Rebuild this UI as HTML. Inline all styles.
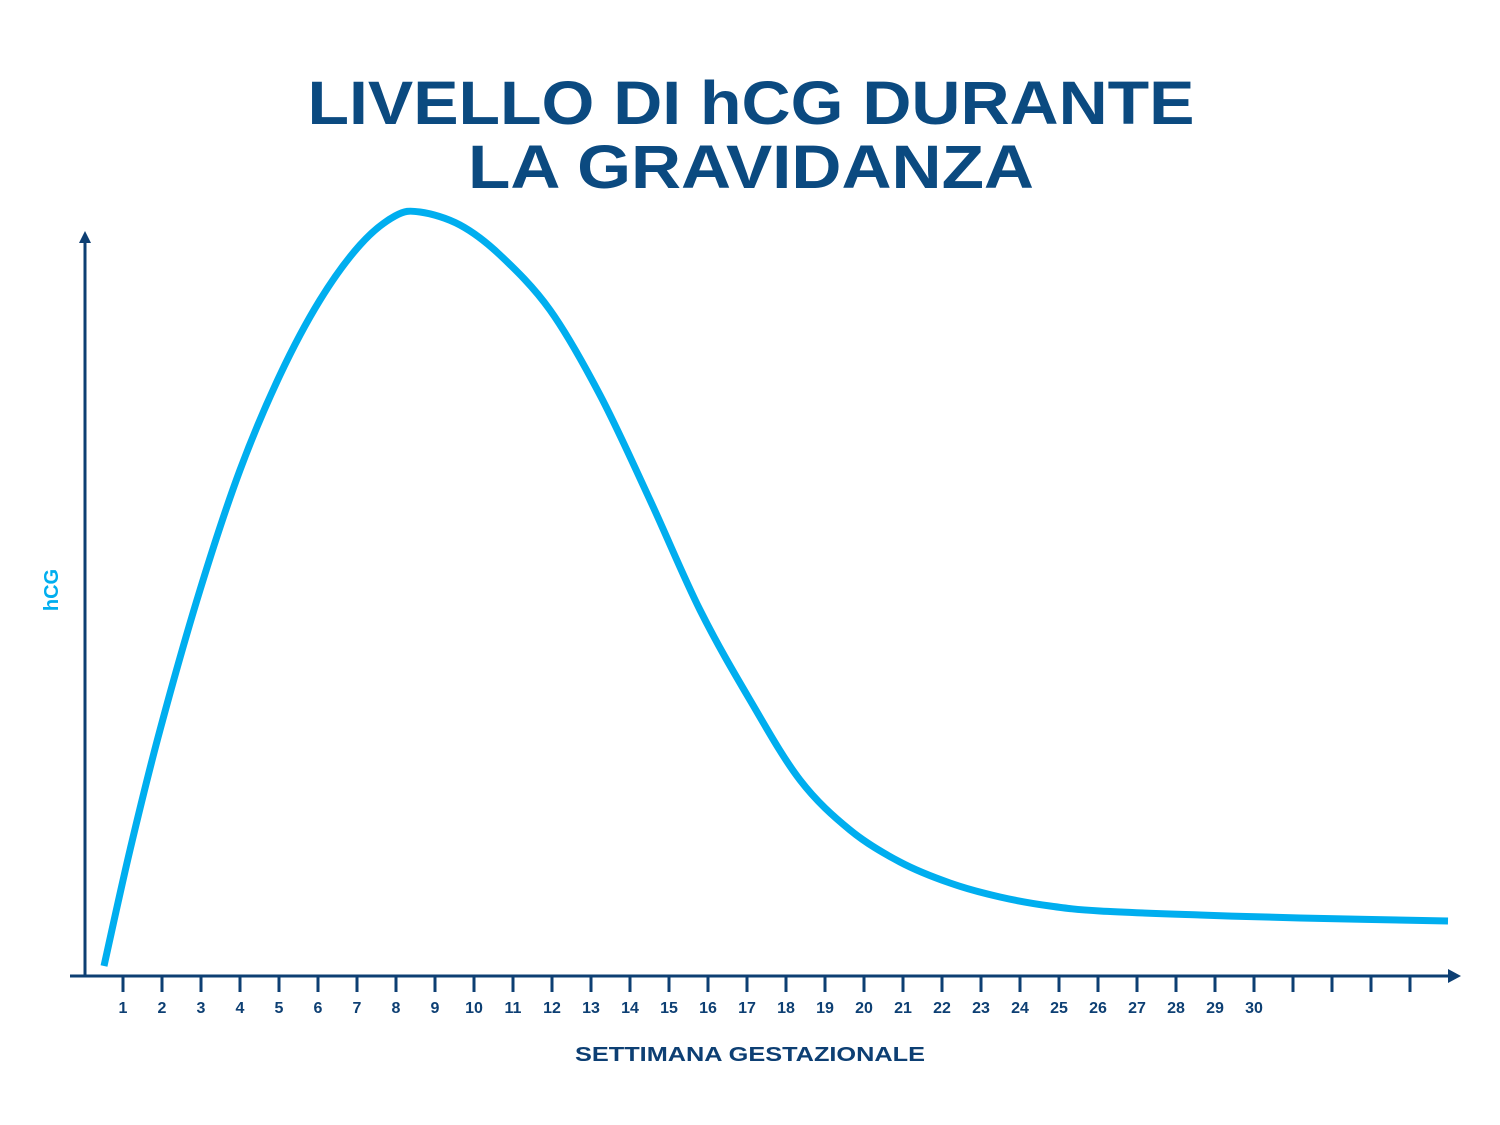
<!DOCTYPE html>
<html><head><meta charset="utf-8"><style>html,body{margin:0;padding:0;background:#fff}svg{display:block}</style></head>
<body>
<svg width="1500" height="1125" viewBox="0 0 1500 1125" xmlns="http://www.w3.org/2000/svg" font-family="Liberation Sans, sans-serif" font-weight="bold">
<rect width="1500" height="1125" fill="#fff"/>
<text x="751" y="124" font-size="61" fill="#0b4a80" text-anchor="middle" textLength="887" lengthAdjust="spacingAndGlyphs">LIVELLO DI hCG DURANTE</text>
<text x="751" y="188" font-size="61" fill="#0b4a80" text-anchor="middle" textLength="566" lengthAdjust="spacingAndGlyphs">LA GRAVIDANZA</text>
<g stroke="#0d3f73" stroke-width="3" fill="none">
<line x1="85" y1="977" x2="85" y2="240"/>
<line x1="70" y1="976" x2="1450" y2="976"/>
</g>
<polygon points="85,231 79,243 91,243" fill="#0d3f73"/>
<polygon points="1461,976 1448,969 1448,983" fill="#0d3f73"/>
<g id="ticks" stroke="#0d3f73" stroke-width="3"></g>
<g id="labels" font-size="16" fill="#0d3f73" text-anchor="middle"></g>
<text x="750" y="1061" font-size="20" fill="#0d3f73" text-anchor="middle" textLength="350" lengthAdjust="spacingAndGlyphs">SETTIMANA GESTAZIONALE</text>
<text transform="translate(58,590) rotate(-90)" font-size="20" fill="#00aeef" text-anchor="middle">hCG</text>
<path id="curve" d="" fill="none" stroke="#00aeef" stroke-width="7" stroke-linecap="butt" stroke-linejoin="round"/>
</svg>
<script>
var t=document.getElementById('ticks'),l=document.getElementById('labels'),ns='http://www.w3.org/2000/svg';
for(var i=1;i<=34;i++){var x=123+39*(i-1);var ln=document.createElementNS(ns,'line');ln.setAttribute('x1',x);ln.setAttribute('x2',x);ln.setAttribute('y1',977);ln.setAttribute('y2',992);t.appendChild(ln);
if(i<=30){var tx=document.createElementNS(ns,'text');tx.setAttribute('x',x);tx.setAttribute('y',1013);tx.textContent=i;l.appendChild(tx);}}
var p=[[104,966],[130,850],[160,730],[200,590],[240,470],[280,375],[320,300],[360,245],[395,216],[420,212],[460,225],[500,255],[550,310],[600,395],[650,500],[700,610],[750,700],[800,780],[850,830],[900,862],[950,883],[1000,897],[1050,906],[1100,911],[1200,915],[1300,918],[1448,921]];
var d='M'+p[0][0]+','+p[0][1];
for(var k=0;k<p.length-1;k++){var a=p[k>0?k-1:0],b=p[k],c=p[k+1],e=p[k+2<p.length?k+2:k+1];
d+=' C'+(b[0]+(c[0]-a[0])/6)+','+(b[1]+(c[1]-a[1])/6)+' '+(c[0]-(e[0]-b[0])/6)+','+(c[1]-(e[1]-b[1])/6)+' '+c[0]+','+c[1];}
document.getElementById('curve').setAttribute('d',d);
</script>
</body></html>
